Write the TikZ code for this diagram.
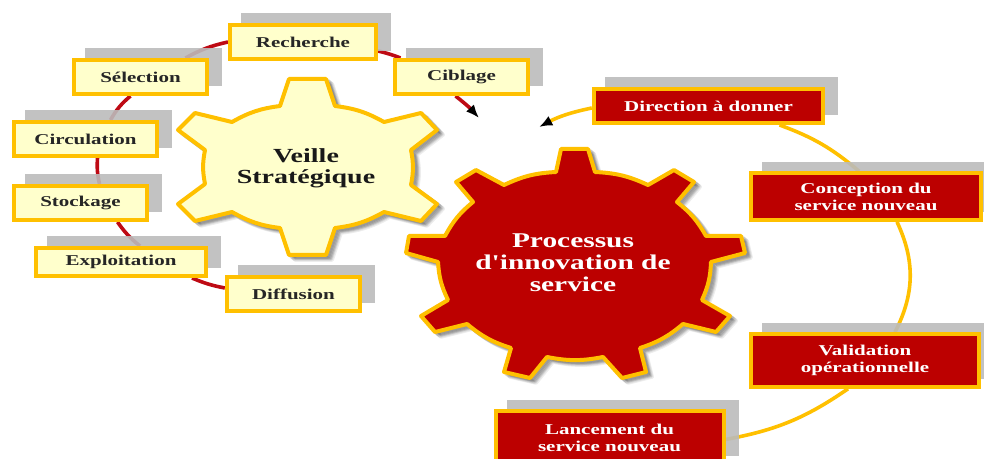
\documentclass[tikz,border=0pt]{standalone}
\usepackage{fontspec}
\setmainfont{Liberation Serif}[FakeStretch=1.4,Ligatures=TeXOff]
\usetikzlibrary{arrows.meta,calc,backgrounds}
\definecolor{gearred}{HTML}{BC0000}
\definecolor{gold}{HTML}{FFC000}
\definecolor{cream}{HTML}{FFFFCC}
\definecolor{shade}{HTML}{BBBBBB}
\definecolor{linkred}{HTML}{BE0A14}
\tikzset{
  boxbase/.style={draw=gold,line width=3pt,inner sep=0pt,align=center,font=\fontsize{11.25}{12.75}\selectfont\bfseries},
  creambox/.style={boxbase,fill=cream,text=black!85},
  redbox/.style={boxbase,fill=gearred,text=white},
  gearline/.style={draw=gold,line width=3pt,line join=round},
  gearshade/.style={fill=black,opacity=.07,draw=black,draw opacity=.07,line width=3pt,line join=round},
  boxshade/.style={fill=shade,opacity=.9},
  redlink/.style={draw=linkred,line width=2.7pt},
  goldlink/.style={draw=gold,line width=2.7pt},
  tip/.style={-{Latex[black,length=10pt,width=8pt]}},
  arcA/.style={bend left=11},
  gearlabel/.style={align=center,inner sep=0pt}
}
\def\gearA{(289,79) -- (326,79) -- (335,106) to[arcA] (384,122) -- (421,113) -- (437,130) -- (411,150) to[arcA] (411,185) -- (437,204) -- (421,221) -- (384,212) to[arcA] (335,228) -- (326,255) -- (289,255) -- (280,228) to[arcA] (232,212) -- (195,221) -- (178,204) -- (205,184) to[arcA] (205,150) -- (178,130) -- (195,113) -- (232,122) to[arcA] (280,106) -- cycle}
\def\gearB{(561,149) -- (588,149) -- (595,172) to[arcA] (648,185) -- (674,170) -- (694,182) -- (677,202) to[arcA] (706,236) -- (741,236) -- (745,253) -- (711,262) to[arcA] (702,300) -- (730,316) -- (716,332) -- (683,324) to[arcA] (640,348) -- (646,372) -- (622,378) -- (603,357) to[arcA] (547,357) -- (530,378) -- (504,372) -- (511,348) to[arcA] (467,324) -- (435,332) -- (421,316) -- (448,300) to[arcA] (438,262) -- (406,253) -- (409,236) -- (445,236) to[arcA] (473,202) -- (456,182) -- (476,170) -- (504,185) to[arcA] (556,172) -- cycle}
\begin{document}
\begin{tikzpicture}[x=0.75pt,y=-0.75pt]
\useasboundingbox (0,0) rectangle (984,459);
\clip (0,0) rectangle (984,459);
% gear shadows
\foreach \d in {2,3,4,5,6}{
  \path[gearshade,shift={(\d,\d*0.8)}] \gearA;
  \path[gearshade,shift={(\d,\d*0.8)}] \gearB;
}
% gears
\path[gearline,fill=cream] \gearA;
\path[gearline,fill=gearred] \gearB;
\node[gearlabel,font=\fontsize{15}{15.5}\selectfont\bfseries,text=black!90] (veille) at (306,168) {Veille\\Stratégique};
\node[gearlabel,font=\fontsize{15.75}{16.5}\selectfont\bfseries,text=white] (proc) at (573,263) {Processus\\d'innovation de\\service};
% boxes
\node[creambox,minimum width=109.5pt,minimum height=25.5pt] (rech) at (303,42) {Recherche};
\node[creambox,minimum width=100pt,minimum height=25.5pt] (sel) at (140.5,77) {Sélection};
\node[creambox,minimum width=100pt,minimum height=25.5pt] (cib) at (461.5,77) {Ciblage};
\node[creambox,minimum width=107.5pt,minimum height=25.5pt] (circ) at (85.5,139) {Circulation};
\node[creambox,minimum width=100pt,minimum height=25.5pt] (stock) at (80.5,203) {Stockage};
\node[creambox,minimum width=127.5pt,minimum height=21pt] (expl) at (121,262) {\raisebox{-1.5pt}{Exploitation}};
\node[creambox,minimum width=100pt,minimum height=25.5pt] (diff) at (293.5,294) {Diffusion};
\node[redbox,minimum width=172pt,minimum height=25.5pt] (dir) at (708.5,106) {Direction à donner};
\node[redbox,minimum width=172.5pt,minimum height=35pt] (conc) at (866,196.5) {Conception du\\service nouveau};
\node[redbox,minimum width=171pt,minimum height=39.5pt] (val) at (865,360.5) {Validation\\opérationnelle};
\node[redbox,minimum width=171pt,minimum height=39.5pt] (lanc) at (609.5,437.5) {Lancement du\\service nouveau};
\coordinate (tipA) at (479,118);
\coordinate (tipB) at (539,127);
\begin{pgfonlayer}{background}
  % connectors
  \draw[redlink] (rech.west) to[bend right=8] ($(sel.north)+(45,0)$);
  \draw[redlink] ($(sel.south)+(-10,0)$) to[bend right=10] ($(circ.north)+(25,0)$);
  \draw[redlink] ($(circ.south)+(12,0)$) to[bend right=8] ($(stock.north)+(19,0)$);
  \draw[redlink] ($(stock.south)+(37,0)$) to[bend right=8] ($(expl.north)+(19,0)$);
  \draw[redlink] ($(expl.south)+(71,0)$) to[bend right=6] ($(diff.west)+(0,-6)$);
  \draw[redlink] ($(rech.east)+(0,9)$) to[bend left=4] ($(cib.north)+(-61,0)$);
  \draw[redlink,tip] ($(cib.south)+(-6,0)$) to[bend left=5] (tipA);
  \draw[goldlink,tip] ($(dir.west)+(0,2)$) to[bend right=8] (tipB);
  \draw[goldlink] ($(dir.south)+(71,0)$) to[bend left=10] ($(conc.north)+(-7,0)$);
  \draw[goldlink] ($(conc.south)+(31,0)$) to[bend left=26] ($(val.north)+(30,0)$);
  \draw[goldlink] ($(val.south)+(-17,0)$) to[bend left=12] ($(lanc.east)+(0,2)$);
  % box shadows
  \foreach \n in {rech,sel,cib,circ,stock,expl,diff,dir,conc,val,lanc}{
    \fill[boxshade] ($(\n.south west)+(13,-9.5)$) rectangle ($(\n.north east)+(13,-9.5)$);
  }
\end{pgfonlayer}
\end{tikzpicture}
\end{document}
